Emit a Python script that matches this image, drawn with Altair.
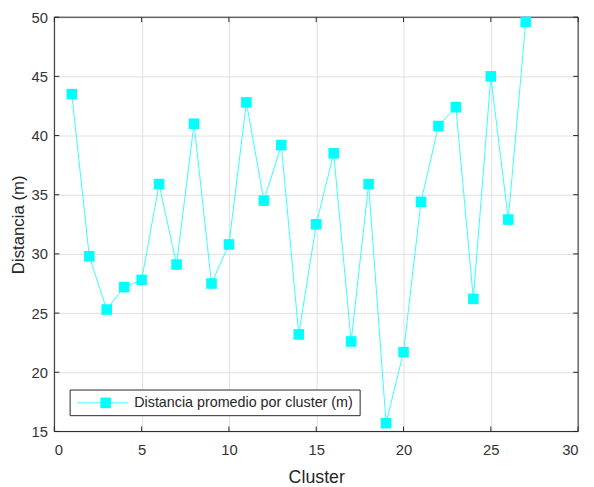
import altair as alt
import pandas as pd

clusters = list(range(1, 28))
distancias = [43.5, 29.8, 25.3, 27.2, 27.8, 35.9, 29.1, 41.0, 27.5, 30.8,
              42.8, 34.5, 39.2, 23.2, 32.5, 38.5, 22.6, 35.9, 15.7, 21.7,
              34.4, 40.8, 42.4, 26.2, 45.0, 32.9, 49.6]
x_ticks = [0, 5, 10, 15, 20, 25, 30]
y_ticks = [15, 20, 25, 30, 35, 40, 45, 50]
legend_label = "Distancia promedio por cluster (m)"
x_title = "Cluster"
y_title = "Distancia (m)"

W, H = 531, 420
CYAN = "#00FFFF"
DARK = "#262626"
FONT = "Liberation Sans"

df = pd.DataFrame({"cluster": clusters, "dist": distancias})
xt = pd.DataFrame({"t": x_ticks})
yt = pd.DataFrame({"t": y_ticks})
leg = pd.DataFrame({"label": [legend_label]})

xs = alt.Scale(domain=[0, 30], nice=False, zero=False)
ys = alt.Scale(domain=[15, 50], nice=False, zero=False)

x_axis = alt.Axis(values=x_ticks, grid=True, ticks=False, domain=False,
                  labelPadding=11, labelFontSize=15, title=x_title,
                  titleFontSize=18, titleFontWeight="normal",
                  titleBaseline="alphabetic", titleY=52, titleColor=DARK,
                  labelColor="#333333", gridColor="#e0e0e0", labelFont=FONT,
                  titleFont=FONT)
y_axis = alt.Axis(values=y_ticks, grid=True, ticks=False, domain=False,
                  labelPadding=7, labelFontSize=15, title=y_title,
                  titleFontSize=17, titleFontWeight="normal",
                  titleBaseline="alphabetic", titleX=-31, titleColor=DARK,
                  labelColor="#333333", gridColor="#e0e0e0", labelFont=FONT,
                  titleFont=FONT)

base_line = alt.Chart(df).mark_line(color=CYAN, strokeWidth=1, opacity=0.8).encode(
    x=alt.X("cluster:Q", scale=xs, axis=x_axis),
    y=alt.Y("dist:Q", scale=ys, axis=y_axis),
)
pts = alt.Chart(df).mark_point(shape="square", filled=True, color=CYAN,
                               size=115, opacity=1).encode(
    x=alt.X("cluster:Q", scale=xs),
    y=alt.Y("dist:Q", scale=ys),
)

tick_b = alt.Chart(xt).mark_rule(color=DARK, strokeWidth=1).encode(
    x=alt.X("t:Q", scale=xs), y=alt.value(H), y2=alt.value(H - 5))
tick_t = alt.Chart(xt).mark_rule(color=DARK, strokeWidth=1).encode(
    x=alt.X("t:Q", scale=xs), y=alt.value(0), y2=alt.value(5))
tick_l = alt.Chart(yt).mark_rule(color=DARK, strokeWidth=1).encode(
    y=alt.Y("t:Q", scale=ys), x=alt.value(0), x2=alt.value(5))
tick_r = alt.Chart(yt).mark_rule(color=DARK, strokeWidth=1).encode(
    y=alt.Y("t:Q", scale=ys), x=alt.value(W), x2=alt.value(W - 5))

box = alt.Chart(leg).mark_rect(fill=None, stroke=DARK, strokeWidth=1).encode(
    x=alt.value(0), x2=alt.value(W), y=alt.value(0), y2=alt.value(H))

leg_box = alt.Chart(leg).mark_rect(fill="white", stroke=DARK, strokeWidth=1).encode(
    x=alt.value(16), x2=alt.value(310), y=alt.value(378), y2=alt.value(404))
leg_line = alt.Chart(leg).mark_rule(color=CYAN, strokeWidth=1, opacity=0.8).encode(
    x=alt.value(23), x2=alt.value(75), y=alt.value(391))
leg_pt = alt.Chart(leg).mark_point(shape="square", filled=True, color=CYAN,
                                   size=115, opacity=1).encode(
    x=alt.value(52), y=alt.value(391))
leg_txt = alt.Chart(leg).mark_text(align="left", baseline="middle",
                                   fontSize=14.5, font=FONT, color=DARK).encode(
    x=alt.value(81), y=alt.value(391), text="label:N")

chart = alt.layer(
    base_line, tick_b, tick_t, tick_l, tick_r, box, pts,
    leg_box, leg_line, leg_pt, leg_txt
).properties(
    width=W, height=H,
    autosize=alt.AutoSizeParams(type="none"),
    padding={"left": 47, "top": 6, "right": 8, "bottom": 53},
).configure_view(stroke=None).configure(background="white")

chart.save("out.html", embed_options={"renderer": "svg", "actions": False})
